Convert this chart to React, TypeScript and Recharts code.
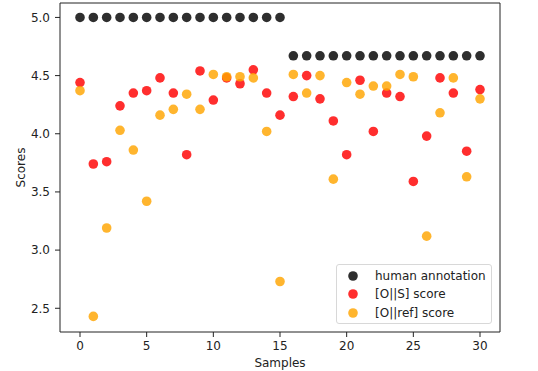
import { ScatterChart, Scatter, XAxis, YAxis, ReferenceLine, Legend } from "recharts";

const samples = [0, 1, 2, 3, 4, 5, 6, 7, 8, 9, 10, 11, 12, 13, 14, 15, 16, 17, 18, 19, 20, 21, 22, 23, 24, 25, 26, 27, 28, 29, 30];
const human = [5.0, 5.0, 5.0, 5.0, 5.0, 5.0, 5.0, 5.0, 5.0, 5.0, 5.0, 5.0, 5.0, 5.0, 5.0, 5.0, 4.67, 4.67, 4.67, 4.67, 4.67, 4.67, 4.67, 4.67, 4.67, 4.67, 4.67, 4.67, 4.67, 4.67, 4.67];
const osScore = [4.44, 3.74, 3.76, 4.24, 4.35, 4.37, 4.48, 4.35, 3.82, 4.54, 4.29, 4.48, 4.43, 4.55, 4.35, 4.16, 4.32, 4.5, 4.3, 4.11, 3.82, 4.46, 4.02, 4.35, 4.32, 3.59, 3.98, 4.48, 4.35, 3.85, 4.38];
const orefScore = [4.37, 2.43, 3.19, 4.03, 3.86, 3.42, 4.16, 4.21, 4.34, 4.21, 4.51, 4.49, 4.49, 4.48, 4.02, 2.73, 4.51, 4.35, 4.5, 3.61, 4.44, 4.34, 4.41, 4.41, 4.51, 4.49, 3.12, 4.18, 4.48, 3.63, 4.3];
const xTicks = [0, 5, 10, 15, 20, 25, 30];
const yTicks = [2.5, 3.0, 3.5, 4.0, 4.5, 5.0];

const series = [
  { name: "human annotation", values: human, color: "rgba(0,0,0,0.82)" },
  { name: "[O||S] score", values: osScore, color: "rgba(255,0,0,0.82)" },
  { name: "[O||ref] score", values: orefScore, color: "rgba(255,165,0,0.82)" },
];

const X_MIN = -1.5;
const X_MAX = 31.5;
const Y_MIN = 2.296;
const Y_MAX = 5.124;
const FONT = "DejaVu Sans, sans-serif";
const TEXT = "#222";

function Dot(props: any) {
  const { cx, cy, fill } = props;
  if (cx == null || cy == null) return null;
  return <circle cx={cx} cy={cy} r={4.8} fill={fill} />;
}

function LegendBox() {
  return (
    <div
      style={{
        position: "absolute",
        left: 336,
        top: 264,
        width: 156,
        height: 60,
        border: "1px solid #d8d8d8",
        borderRadius: 3,
        background: "rgba(255,255,255,0.8)",
        fontFamily: FONT,
        fontSize: 12,
        color: TEXT,
        boxSizing: "border-box",
      }}
    >
      {series.map((s, i) => (
        <div key={s.name} style={{ position: "absolute", left: 0, top: 2 + i * 18.4, height: 18, display: "flex", alignItems: "center" }}>
          <svg width={38} height={18}>
            <circle cx={16} cy={9} r={4.8} fill={s.color} />
          </svg>
          <span style={{ whiteSpace: "nowrap" }}>{s.name}</span>
        </div>
      ))}
    </div>
  );
}

export default function App() {
  return (
    <div style={{ position: "absolute", left: 0, top: 0, width: 538, height: 371, background: "#fff" }}>
      <ScatterChart width={538} height={371} margin={{ top: 3, right: 38, left: 0, bottom: 0 }}>
        <XAxis
          type="number"
          dataKey="x"
          domain={[X_MIN, X_MAX]}
          ticks={xTicks}
          allowDataOverflow
          height={39}
          stroke="#222"
          tickSize={5}
          tickMargin={4}
          tick={{ fontSize: 12, fill: TEXT, fontFamily: FONT }}
          label={{ value: "Samples", position: "insideBottom", offset: 4, fontSize: 12, fill: TEXT, fontFamily: FONT }}
        />
        <YAxis
          type="number"
          dataKey="y"
          domain={[Y_MIN, Y_MAX]}
          ticks={yTicks}
          allowDataOverflow
          width={60}
          stroke="#222"
          tickSize={5}
          tickMargin={5}
          tickFormatter={(v: number) => v.toFixed(1)}
          tick={{ fontSize: 12, fill: TEXT, fontFamily: FONT }}
          label={{ value: "Scores", angle: -90, position: "insideLeft", offset: 21, fontSize: 12, fill: TEXT, fontFamily: FONT, style: { textAnchor: "middle" } }}
        />
        <ReferenceLine y={Y_MAX} stroke="#222" ifOverflow="extendDomain" />
        <ReferenceLine x={X_MAX} stroke="#222" ifOverflow="extendDomain" />
        {series.map((s) => (
          <Scatter
            key={s.name}
            name={s.name}
            data={samples.map((x, i) => ({ x, y: s.values[i] }))}
            fill={s.color}
            shape={<Dot />}
            isAnimationActive={false}
          />
        ))}
        <Legend content={() => null} />
      </ScatterChart>
      <LegendBox />
    </div>
  );
}
